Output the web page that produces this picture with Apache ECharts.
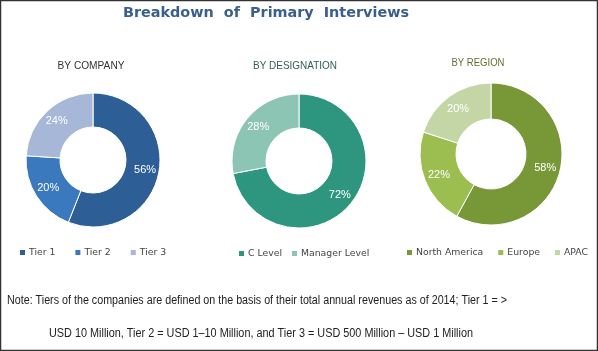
<!DOCTYPE html>
<html>
<head>
<meta charset="utf-8">
<script src="https://cdn.jsdelivr.net/npm/echarts@6/dist/echarts.min.js"></script>
<style>
html,body{margin:0;padding:0;background:#fff;}
#c{width:598px;height:351px;}
</style>
</head>
<body>
<div id="c"></div>
<script>
var companyCats = ['Tier 1', 'Tier 2', 'Tier 3'];
var companyVals = [56, 20, 24];
var designationCats = ['C Level', 'Manager Level'];
var designationVals = [72, 28];
var regionCats = ['North America', 'Europe', 'APAC'];
var regionVals = [58, 22, 20];

var mainTitle = 'Breakdown  of  Primary  Interviews';
var subTitles = ['BY COMPANY', 'BY DESIGNATION', 'BY REGION'];
var noteLines = [
  'Note: Tiers of the companies are defined on the basis of their total annual revenues as of 2014; Tier 1 = >',
  'USD 10 Million, Tier 2 = USD 1\u201310 Million, and Tier 3 = USD 500 Million \u2013 USD 1 Million'
];

var companyColors = ['#2D5F96', '#3A79BE', '#A7B7D7'];
var designationColors = ['#2E967F', '#8DC5B5'];
var regionColors = ['#789838', '#9CBD50', '#C4D6A6'];

var ctx = document.createElement('canvas').getContext('2d');
function fitScale(text, font, target) {
  ctx.font = font;
  return target / ctx.measureText(text).width;
}

function toData(cats, vals, colors) {
  return cats.map(function (c, i) {
    return { name: c, value: vals[i], itemStyle: { color: colors[i] } };
  });
}

function pie(cats, vals, colors, center, radius) {
  return {
    type: 'pie',
    center: center,
    radius: radius,
    startAngle: 90,
    clockwise: true,
    silent: true,
    animation: false,
    itemStyle: { borderColor: '#fff', borderWidth: 1 },
    label: {
      position: 'inside',
      formatter: '{c}%',
      color: '#fff',
      fontSize: 11,
      fontFamily: 'Liberation Sans'
    },
    labelLine: { show: false },
    data: toData(cats, vals, colors)
  };
}

function legend(cats, left, top, gap) {
  return {
    data: cats,
    left: left,
    top: top,
    padding: 0,
    width: 300,
    icon: 'rect',
    itemWidth: 7,
    itemHeight: 7,
    itemGap: gap,
    selectedMode: false,
    textStyle: { fontSize: 9.3, color: '#444', fontFamily: 'DejaVu Sans', padding: [0, 0, 0, -2] }
  };
}

function scaledText(text, x, y, size, family, color, target) {
  var sx = fitScale(text, size + 'px "' + family + '"', target);
  return {
    type: 'text', x: x, y: y, scaleX: sx, silent: true,
    style: { text: text, textAlign: 'center', textVerticalAlign: 'middle', fontSize: size, fontFamily: family, fill: color }
  };
}

var chart = echarts.init(document.getElementById('c'));
chart.setOption({
  animation: false,
  title: [
    { text: mainTitle, left: 261, textAlign: 'center', top: 1,
      textStyle: { fontSize: 14.4, fontWeight: 'bold', color: '#3A5F8A', fontFamily: 'DejaVu Sans' } }
  ],
  legend: [
    legend(companyCats, 18, 248, 18),
    legend(designationCats, 237, 249, 8),
    legend(regionCats, 405, 248, 13)
  ],
  series: [
    pie(companyCats, companyVals, companyColors, [93, 160], [33, 67]),
    pie(designationCats, designationVals, designationColors, [299, 161], [33, 67]),
    pie(regionCats, regionVals, regionColors, [491, 154], [35, 71])
  ],
  graphic: [
    { type: 'rect', shape: { x: 0.5, y: 0.5, width: 597, height: 350 }, style: { fill: 'none', stroke: '#333', lineWidth: 1.5 }, silent: true },
    scaledText(subTitles[0], 91, 66, 11, 'Liberation Sans', '#333', 67),
    scaledText(subTitles[1], 295, 66, 11, 'Liberation Sans', '#2F5F5A', 84),
    scaledText(subTitles[2], 478, 63, 11, 'Liberation Sans', '#5F7030', 53),
    scaledText(noteLines[0], 257, 301, 12, 'Liberation Sans', '#222', 500),
    scaledText(noteLines[1], 261, 334, 12, 'Liberation Sans', '#222', 424)
  ]
});
</script>
</body>
</html>
